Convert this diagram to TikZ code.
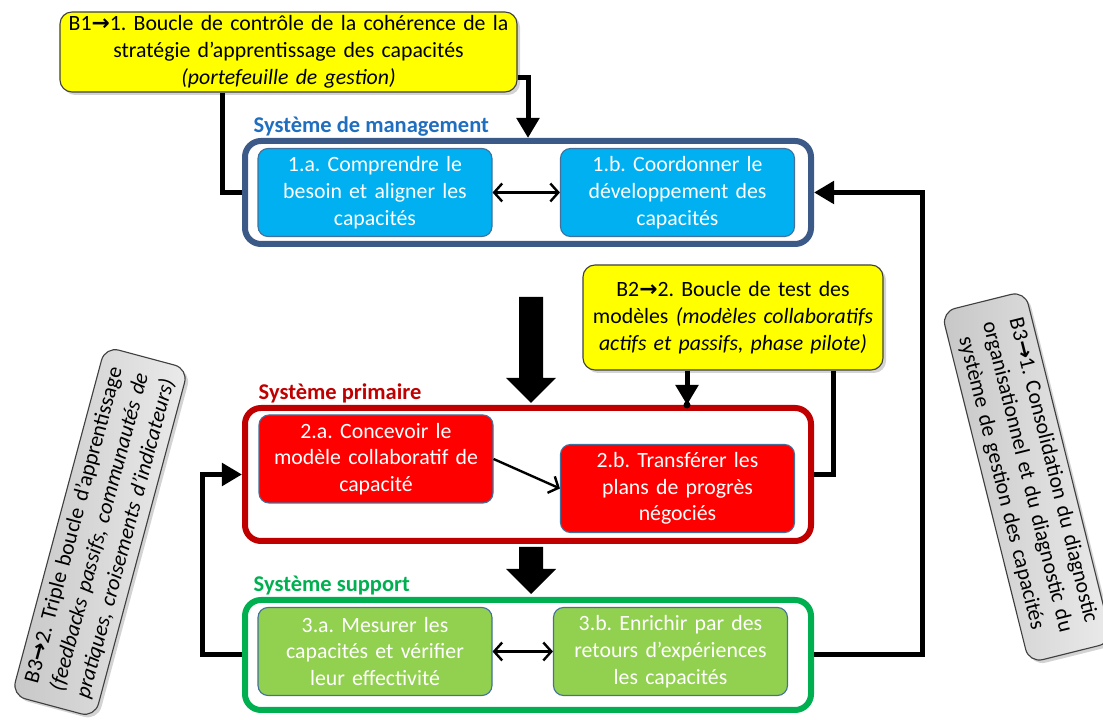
\documentclass[tikz,border=0pt]{standalone}
\usepackage{fontspec}
\setmainfont{Carlito}
\newfontfamily\symfont{DejaVu Sans}
\usepackage{xcolor}
\usepackage{tikz}
\usetikzlibrary{arrows.meta,positioning,calc,shadows}
\definecolor{MgmtBlue}{HTML}{3C5A88}
\definecolor{MgmtText}{HTML}{1F6EBF}
\definecolor{Sky}{HTML}{00B0F0}
\definecolor{PrimRed}{HTML}{C00000}
\definecolor{BoxRed}{HTML}{FF0000}
\definecolor{SuppGreen}{HTML}{00B050}
\definecolor{Leaf}{HTML}{92D050}
\definecolor{Edge}{HTML}{41719C}
\definecolor{Lemon}{HTML}{FFFF00}
\newlength\pxu
\setlength\pxu{0.025cm}
\newcommand\bto{{\symfont\bfseries →}}
\frenchspacing

\begin{document}
\begin{tikzpicture}[x=\pxu,y=\pxu,every node/.style={font=\fontsize{15.5}{19}\selectfont},
  frame/.style={draw,line width=6\pxu,rounded corners=16\pxu,minimum width=566\pxu,inner sep=0pt},
  task/.style={draw=Edge,line width=0.8pt,rounded corners=10\pxu,text=white,align=center,
    text width=224\pxu,inner xsep=5\pxu,inner ysep=0pt,minimum height=88\pxu},
  note/.style={draw=black!75,line width=0.8pt,fill=Lemon,rounded corners=12\pxu,align=center,inner sep=0pt,
    drop shadow={opacity=0.35,shadow xshift=3\pxu,shadow yshift=-3\pxu}},
  hint/.style={draw=black!75,line width=0.8pt,left color=black!22,right color=black!8,rounded corners=14\pxu,
    align=center,inner sep=0pt,drop shadow={opacity=0.35,shadow xshift=3\pxu,shadow yshift=-3\pxu}},
  title/.style={font=\fontsize{16}{19}\selectfont\bfseries,anchor=south west,inner sep=1pt},
  link/.style={line width=5\pxu},
  tip/.style={-{Triangle[length=0.5cm,width=0.55cm]}},
  twoway/.style={line width=2.4\pxu,{Straight Barb[length=0.2cm,width=0.45cm]}-{Straight Barb[length=0.2cm,width=0.45cm]}}]
\useasboundingbox (0,0) rectangle (1103,720);

% the three systems
\node[frame,draw=MgmtBlue,minimum height=103\pxu] (mgmt) at (528,527.5) {};
\node[frame,draw=PrimRed,minimum height=133\pxu] (prim) at (528,245.5) {};
\node[frame,draw=SuppGreen,minimum height=110\pxu] (supp) at (528,65) {};
\node[title,text=MgmtText] (mgmtlbl) at ([xshift=10\pxu]mgmt.north west) {Système de management};
\node[title,text=PrimRed] (primlbl) at ([xshift=15\pxu]prim.north west) {Système primaire};
\node[title,text=SuppGreen] (supplbl) at ([xshift=10\pxu]supp.north west) {Système support};

\node[task,fill=Sky] (t1a) at (375,527.5) {1.a. Comprendre le\\ besoin et aligner les\\ capacités};
\node[task,fill=Sky] (t1b) at (677.5,527.5) {1.b. Coordonner le\\ développement des\\ capacités};
\node[task,fill=BoxRed] (t2a) at (376,261) {2.a. Concevoir le\\ modèle collaboratif de\\ capacité};
\node[task,fill=BoxRed] (t2b) at (677.5,231.5) {2.b. Transférer les\\ plans de progrès\\ négociés};
\node[task,fill=Leaf] (t3a) at (375,68.5) {3.a. Mesurer les\\ capacités et vérifier\\ leur effectivité};
\node[task,fill=Leaf] (t3b) at (670.5,68.5) {3.b. Enrichir par des\\ retours d’expériences\\ les capacités};

\draw[twoway] (t1a) -- (t1b);
\draw[twoway] (t3a) -- (t3b);
\draw[line width=2.4\pxu,-{Straight Barb[length=0.2cm,width=0.45cm]}] (t2a.east) -- (t2b.west);

% big arrows between the systems
\fill (519,423) -- (543,423) -- (543,342) -- (556,342) -- (531,317) -- (506,342) -- (519,342) -- cycle;
\fill (519,173) -- (543,173) -- (543,151) -- (556,151) -- (531,126) -- (506,151) -- (519,151) -- cycle;

% loops
\node[note,minimum width=457\pxu,minimum height=80\pxu,text width=445\pxu] (b1) at (288.5,668)
  {B1\bto1. Boucle de contrôle de la cohérence de la\\ stratégie d’apprentissage des capacités\\ \textit{(portefeuille de gestion)}};
\node[note,minimum width=300\pxu,minimum height=105\pxu,text width=290\pxu] (b2) at (733,402.5)
  {B2\bto2. Boucle de test des\\ modèles \textit{(modèles collaboratifs}\\ \textit{actifs et passifs, phase pilote)}};
\node[hint,rotate=75,minimum width=361\pxu,minimum height=86\pxu,text width=350\pxu] (b32) at (100,188)
  {B3\bto2. Triple boucle d’apprentissage\\ \textit{(feedbacks passifs, communautés de}\\ \textit{pratiques, croisements d’indicateurs)}};
\node[hint,rotate=-76,minimum width=362\pxu,minimum height=86\pxu,text width=350\pxu] (b31) at (1027,243)
  {B3\bto1. Consolidation du diagnostic\\ organisationnel et du diagnostic du\\ système de gestion des capacités};

\draw[link] ([xshift=-66.5\pxu]b1.south) |- (mgmt.west);
\draw[link,tip] ([yshift=-26\pxu]b1.east) -| (mgmt.north);
\coordinate (b2out) at ([xshift=-46\pxu]b2.south);
\draw[link,tip] (b2out) -- (b2out |- prim.north);
\fill (b2out |- prim.north) circle (3.5\pxu);
\draw[link] (prim.east) -| ([xshift=100\pxu]b2.south);
\draw[link,tip] (supp.east) -- ++(108,0) |- (mgmt.east);
\draw[link,tip] (supp.west) -- ++(-40,0) |- (prim.west);
\end{tikzpicture}
\end{document}
